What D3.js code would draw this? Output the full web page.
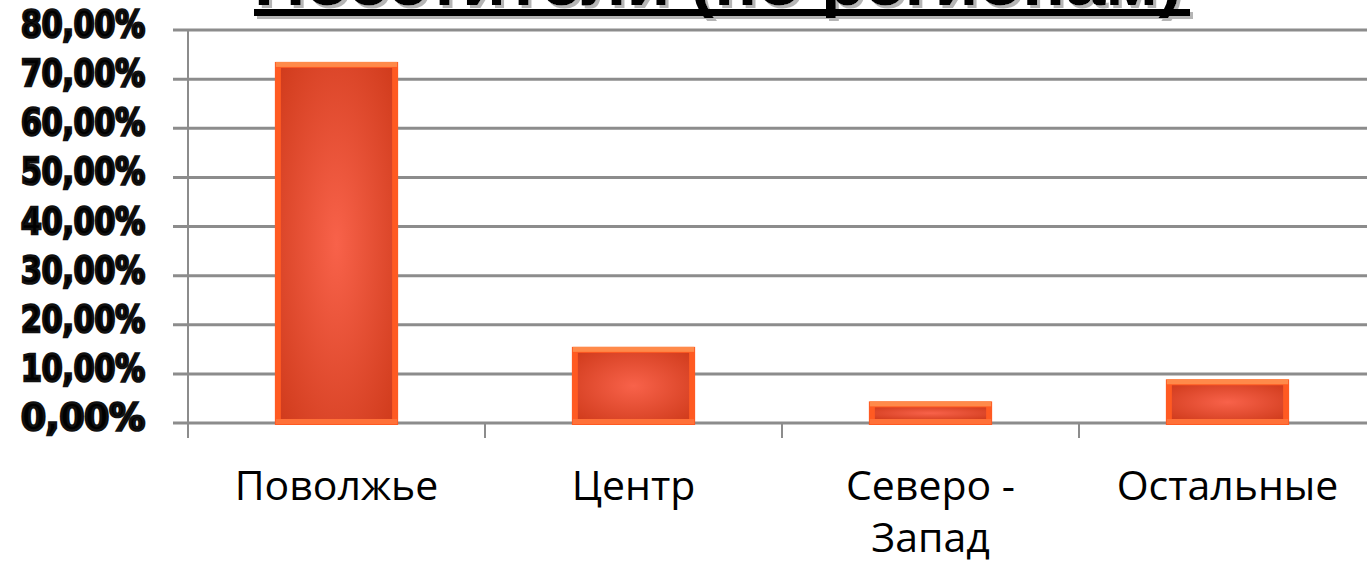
<!DOCTYPE html>
<html>
<head>
<meta charset="utf-8">
<script src="https://cdn.jsdelivr.net/npm/d3@7"></script>
<style>
  html, body { margin: 0; padding: 0; background: #fff; overflow: hidden; }
  #canvas { width: 1367px; height: 564px; }
</style>
</head>
<body>
<div id="canvas"></div>
<script>
const w = 1367, h = 564;

// data
const categories = ["Поволжье", "Центр", "Северо - Запад", "Остальные"];
const shares = [73.5, 15.5, 4.4, 8.9];
const yTicks = [0, 10, 20, 30, 40, 50, 60, 70, 80];
const titleText = "Посетители (по регионам)";

let svg = d3.select("#canvas")
            .append("svg")
                .attr("width", w)
                .attr("height", h)
                .attr("viewBox", [0, 0, w, h]);

let defs = svg.append("defs");
let grad = defs.append("radialGradient")
    .attr("id", "barFill")
    .attr("cx", "50%").attr("cy", "50%").attr("r", "70%");
grad.append("stop").attr("offset", "0%").attr("stop-color", "#f8624a");
grad.append("stop").attr("offset", "100%").attr("stop-color", "#d13c1d");

defs.append("filter")
    .attr("id", "shadow")
    .attr("x", "-5%").attr("y", "-50%").attr("width", "110%").attr("height", "200%")
  .append("feDropShadow")
    .attr("dx", 3).attr("dy", 3)
    .attr("stdDeviation", 0.3)
    .attr("flood-color", "#b5b5b5")
    .attr("flood-opacity", 1);

let x = d3.scaleBand()
    .domain(categories)
    .range([188, 1376])
    .padding(0);

let y = d3.scaleLinear()
    .domain([0, 80])
    .range([423, 30]);

const barW = x.bandwidth() * 0.415;

// gridlines
svg.append("g")
    .selectAll("line")
    .data(yTicks)
    .enter().append("line")
        .attr("x1", 173)
        .attr("x2", w)
        .attr("y1", d => y(d))
        .attr("y2", d => y(d))
        .attr("stroke", "#8c8c8c")
        .attr("stroke-width", 3);

// vertical axis + category ticks
svg.append("line")
    .attr("x1", 188).attr("x2", 188)
    .attr("y1", y(80)).attr("y2", y(0) + 15)
    .attr("stroke", "#8c8c8c").attr("stroke-width", 2);

svg.append("g")
    .selectAll("line")
    .data(categories)
    .enter().append("line")
        .attr("x1", d => x(d))
        .attr("x2", d => x(d))
        .attr("y1", y(0))
        .attr("y2", y(0) + 15)
        .attr("stroke", "#8c8c8c")
        .attr("stroke-width", 2);

// bars with a bevel look
let bars = svg.append("g")
    .selectAll("g")
    .data(categories.map((c, i) => ({ cat: c, v: shares[i] })))
    .enter().append("g")
        .attr("transform", d => "translate(" + (x(d.cat) + (x.bandwidth() - barW) / 2) + "," + y(d.v) + ")");

bars.append("rect")
    .attr("width", barW)
    .attr("height", d => y(0) - y(d.v) + 2)
    .attr("fill", "#ff5a22");

bars.append("rect")
    .attr("x", 1)
    .attr("width", barW - 2)
    .attr("height", 5)
    .attr("fill", "#ff8a4a");

bars.append("rect")
    .attr("x", 1)
    .attr("y", d => y(0) - y(d.v) - 4)
    .attr("width", barW - 2)
    .attr("height", 5)
    .attr("fill", "#ff7038");

bars.append("rect")
    .attr("x", 6)
    .attr("y", 6)
    .attr("width", barW - 12)
    .attr("height", d => Math.max(2, y(0) - y(d.v) - 10))
    .attr("fill", "url(#barFill)");

// y tick labels
svg.append("g")
    .selectAll("text")
    .data(yTicks)
    .enter().append("text")
        .attr("x", 145)
        .attr("y", d => y(d) + 7)
        .attr("text-anchor", "end")
        .attr("font-family", "'DejaVu Sans Condensed', 'DejaVu Sans', sans-serif")
        .attr("font-weight", "bold")
        .attr("font-size", 37)
        .attr("fill", "#000")
        .attr("stroke", "#111")
        .attr("stroke-width", 2.6)
        .attr("textLength", 124)
        .attr("lengthAdjust", "spacingAndGlyphs")
        .text(d => d3.format(".2f")(d).replace(".", ",") + "%");

// category labels
let cl = svg.append("g")
    .selectAll("text")
    .data(categories)
    .enter().append("text")
        .attr("x", d => x(d) + x.bandwidth() / 2)
        .attr("y", 500)
        .attr("text-anchor", "middle")
        .attr("font-family", "'Open Sans', 'Noto Sans', sans-serif")
        .attr("font-size", 41)
        .attr("fill", "#000");

cl.each(function (d) {
    const parts = d === "Северо - Запад" ? ["Северо -", "Запад"] : [d];
    const t = d3.select(this);
    parts.forEach((p, i) => {
        t.append("tspan")
            .attr("x", x(d) + x.bandwidth() / 2)
            .attr("dy", i === 0 ? 0 : 52)
            .text(p);
    });
});

// title (cut off at the top of the picture)
let tg = svg.append("g").attr("filter", "url(#shadow)");
tg.append("rect")
    .attr("x", 254).attr("y", 9)
    .attr("width", 936).attr("height", 7)
    .attr("fill", "#000");
tg.append("text")
    .attr("x", 254).attr("y", 5)
    .attr("font-family", "'Liberation Sans', Arial, sans-serif")
    .attr("font-weight", "bold")
    .attr("font-size", 64)
    .attr("fill", "#000")
    .attr("textLength", 928)
    .attr("lengthAdjust", "spacingAndGlyphs")
    .text(titleText);
</script>
</body>
</html>
